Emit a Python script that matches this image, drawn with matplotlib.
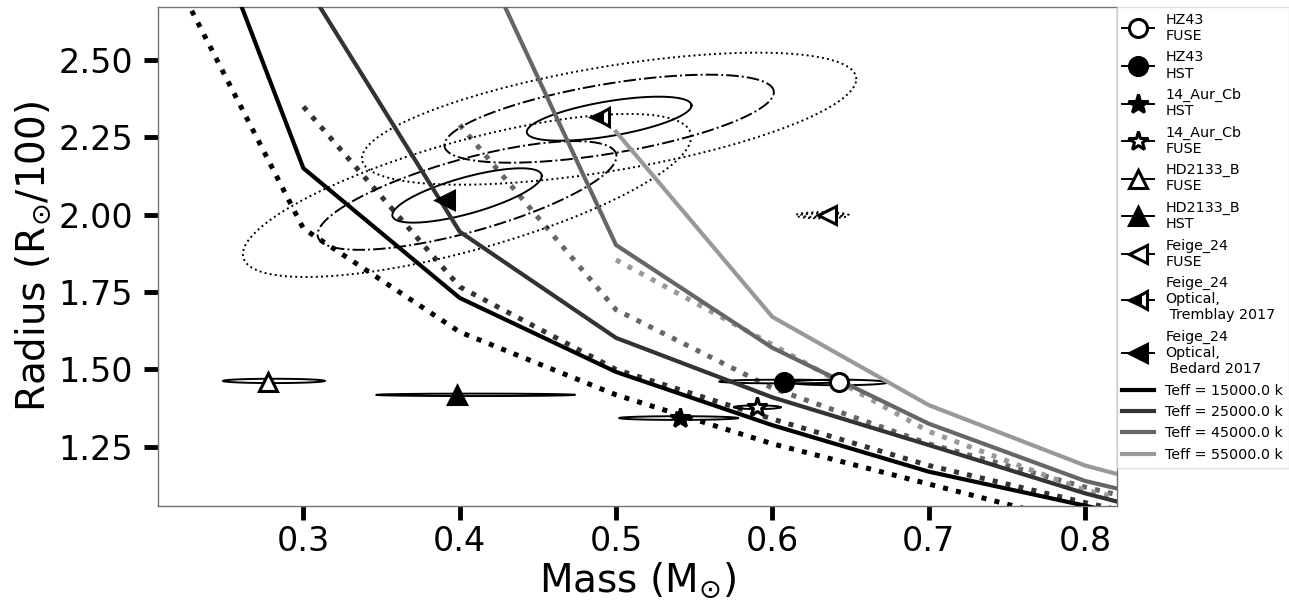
import numpy as np
import matplotlib
matplotlib.use("Agg")
import matplotlib.pyplot as plt

# ---------------- data ----------------
model_mass = [0.2, 0.3, 0.4, 0.5, 0.6, 0.7, 0.8, 0.9]
teff_labels = ["Teff = 15000.0 k", "Teff = 25000.0 k", "Teff = 45000.0 k", "Teff = 55000.0 k"]
teff_colors = ["#000000", "#333333", "#666666", "#999999"]

# solid model tracks (nan = not computed)
r_solid_15000 = [3.47, 2.15, 1.731, 1.492, 1.32, 1.17, 1.06, 0.95]
r_solid_25000 = [np.nan, 2.757, 1.945, 1.602, 1.41, 1.256, 1.10, 0.97]
r_solid_45000 = [np.nan, np.nan, 2.985, 1.902, 1.57, 1.325, 1.14, 1.02]
r_solid_55000 = [np.nan, np.nan, np.nan, 2.268, 1.67, 1.385, 1.19, 1.055]

# dotted model tracks
r_dot_15000 = [2.94, 1.955, 1.621, 1.418, 1.26, 1.13, 1.00, 0.90]
r_dot_25000 = [np.nan, 2.349, 1.767, 1.50, 1.34, 1.19, 1.07, 0.96]
r_dot_45000 = [np.nan, np.nan, 2.29, 1.693, 1.44, 1.26, 1.12, 1.00]
r_dot_55000 = [np.nan, np.nan, np.nan, 1.854, 1.58, 1.30, 1.11, 1.00]

# observed stars
star_labels = ["HZ43\nFUSE", "HZ43\nHST", "14_Aur_Cb\nHST", "14_Aur_Cb\nFUSE",
               "HD2133_B\nFUSE", "HD2133_B\nHST", "Feige_24\nFUSE",
               "Feige_24\nOptical,\n Tremblay 2017", "Feige_24\nOptical,\n Bedard 2017"]
star_mass = [0.6427, 0.6074, 0.5409, 0.5903, 0.2776, 0.398, 0.6347, 0.4897, 0.3906]
star_radius = [1.458, 1.461, 1.343, 1.378, 1.461, 1.418, 1.998, 2.317, 2.048]
star_markers = ["o", "o", "*", "*", "^", "^", "<", "<", "<"]
star_fill = ["none", "full", "full", "none", "none", "full", "none", "left", "full"]

# uncertainty ellipses of the small-error stars (center, half widths)
small_ell_mass = [0.6427, 0.607, 0.540, 0.5903, 0.281, 0.410, 0.632]
small_ell_radius = [1.458, 1.461, 1.343, 1.378, 1.463, 1.418, 1.998]
small_ell_dm = [0.031, 0.041, 0.038, 0.015, 0.0325, 0.0634, 0.017]
small_ell_dr = [0.009, 0.006, 0.006, 0.006, 0.007, 0.004, 0.010]
small_ell_style = ["-", "-", "-", "-", "-", "-", ":"]

# correlated confidence ellipses of optical Feige 24 solutions
opt_ell_mass = [0.4047, 0.4956]
opt_ell_radius = [2.062, 2.310]
opt_ell_sig_m = [0.0478, 0.0527]
opt_ell_sig_r = [0.0878, 0.0711]
opt_ell_rho = [0.72, 0.60]
sigma_levels = [1, 2, 3]
sigma_styles = ["-", "-.", ":"]

# ---------------- plot ----------------
fig = plt.figure(figsize=(12.89, 6.03), dpi=100)
ax = fig.add_axes([0.1226, 0.1614, 0.7437, 0.8266])

solid_sets = [r_solid_15000, r_solid_25000, r_solid_45000, r_solid_55000]
dot_sets = [r_dot_15000, r_dot_25000, r_dot_45000, r_dot_55000]

for rs, c in zip(dot_sets, teff_colors):
    ax.plot(model_mass, rs, linestyle=":", color=c, lw=3.6, zorder=2)

t = np.linspace(0, 2 * np.pi, 400)
for cm, cr, dm, dr, ls in zip(small_ell_mass, small_ell_radius, small_ell_dm,
                              small_ell_dr, small_ell_style):
    ax.plot(cm + dm * np.cos(t), cr + dr * np.sin(t), color="k", lw=1.4,
            linestyle=ls, zorder=3)
    if ls == ":":
        ax.plot(cm + 0.8 * dm * np.cos(t), cr + 0.6 * dr * np.sin(t), color="k",
                lw=1.4, linestyle=ls, zorder=3)

for cm, cr, sm, sr, rho in zip(opt_ell_mass, opt_ell_radius, opt_ell_sig_m,
                               opt_ell_sig_r, opt_ell_rho):
    for n, ls in zip(sigma_levels, sigma_styles):
        xs = cm + n * sm * np.cos(t)
        ys = cr + n * sr * (rho * np.cos(t) + np.sqrt(1 - rho ** 2) * np.sin(t))
        ax.plot(xs, ys, color="k", lw=1.4, linestyle=ls, zorder=3)

handles = []
for m, r, mk, fs, lab in zip(star_mass, star_radius, star_markers, star_fill, star_labels):
    kw = dict(marker=mk, color="k", linestyle="-", lw=1.4, markersize=13 if mk != "*" else 15,
              markeredgewidth=2.2, markeredgecolor="k", label=lab, zorder=5)
    if fs == "none":
        kw.update(markerfacecolor="white")
    elif fs == "left":
        kw.update(fillstyle="left", markerfacecolor="k", markerfacecoloralt="white")
    else:
        kw.update(markerfacecolor="k")
    h, = ax.plot([m], [r], **kw)
    handles.append(h)

for rs, c, lab in zip(solid_sets, teff_colors, teff_labels):
    h, = ax.plot(model_mass, rs, linestyle="-", color=c, lw=3, label=lab, zorder=4)
    handles.append(h)

ax.set_xlim(0.207, 0.8203)
ax.set_ylim(1.06, 2.67)
ax.set_xticks([0.3, 0.4, 0.5, 0.6, 0.7, 0.8])
ax.set_yticks([1.25, 1.50, 1.75, 2.00, 2.25, 2.50])
ax.set_yticklabels(["1.25", "1.50", "1.75", "2.00", "2.25", "2.50"])
ax.tick_params(axis="both", direction="out", length=10, width=3.5, color="k",
               labelsize=24, pad=4)
ax.tick_params(axis="y", pad=8)
for s in ax.spines.values():
    s.set_color("0.45")
    s.set_linewidth(1.0)

ax.set_xlabel(r"Mass (M$_{\odot}$)", fontsize=28, labelpad=2)
ax.set_ylabel(r"Radius (R$_{\odot}$/100)", fontsize=28, labelpad=4)

leg = ax.legend(handles=handles, loc="upper left", bbox_to_anchor=(1.0, 1.0),
                borderaxespad=0.0, fontsize=10.3, frameon=True, fancybox=False,
                edgecolor="0.85", handlelength=2.2, labelspacing=0.52)
for txt in leg.get_texts():
    txt.set_linespacing(1.19)

fig.savefig("out.png", dpi=100)
